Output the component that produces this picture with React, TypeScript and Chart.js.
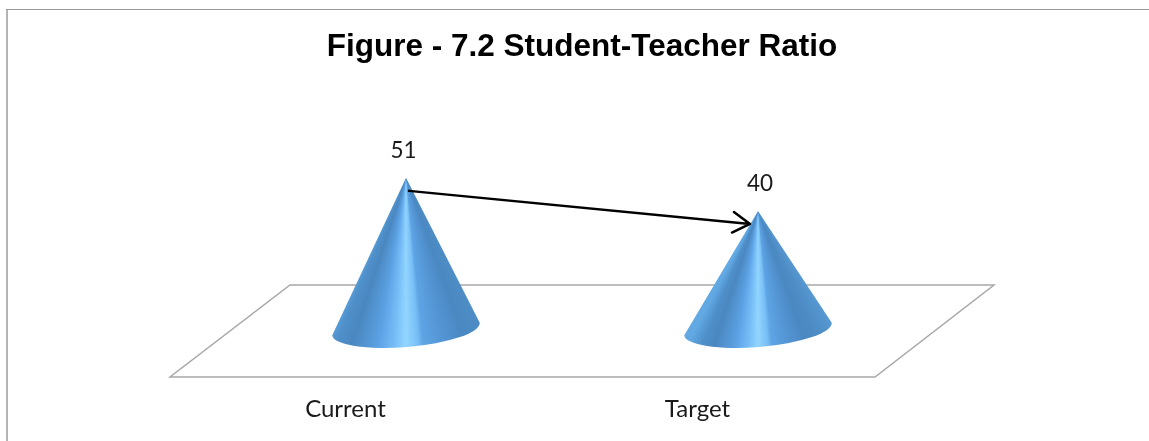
import React, { useEffect, useRef } from "react";
import { Chart, registerables } from "chart.js";

Chart.register(...registerables);

const titleText = "Figure - 7.2 Student-Teacher Ratio";
const categories = ["Current", "Target"];
const ratioValues = [51, 40];

const conePlugin = {
  id: "cones",
  beforeDatasetsDraw(chart: any) {
    const { ctx } = chart;
    const zero = chart.scales.y.getPixelForValue(0);
    ctx.save();
    // chart frame
    ctx.fillStyle = "#b4b4b4";
    ctx.fillRect(6, 9, 2, 432);
    ctx.fillStyle = "#9a9a9a";
    ctx.fillRect(6, 9, 1143, 1);
    // floor
    ctx.strokeStyle = "#a8a8a8";
    ctx.lineWidth = 1.5;
    ctx.beginPath();
    ctx.moveTo(170, zero + 46);
    ctx.lineTo(875, zero + 46);
    ctx.lineTo(994, zero - 46);
    ctx.lineTo(290, zero - 46);
    ctx.closePath();
    ctx.stroke();
    ctx.restore();
  },
  afterDatasetsDraw(chart: any) {
    const { ctx } = chart;
    const bars = chart.getDatasetMeta(0).data;
    ctx.save();
    bars.forEach((bar: any, i: number) => {
      const apexX = bar.x;
      const apexY = bar.y;
      const cy = bar.base - 2;
      const rx = bar.width / 2;
      const ry = 18;
      const rot = -0.084;
      const rightX = apexX + rx * Math.cos(rot);
      const rightY = cy + rx * Math.sin(rot);
      const g = ctx.createConicGradient(0, apexX, apexY);
      const a = (deg: number) => deg / 360;
      g.addColorStop(a(55), "#5a9bd6");
      g.addColorStop(a(64), "#4d8cc4");
      g.addColorStop(a(70), "#4a88c2");
      g.addColorStop(a(78), "#5596d6");
      g.addColorStop(a(84), "#5ea4e4");
      g.addColorStop(a(86), "#79bff6");
      g.addColorStop(a(90), "#92d5ff");
      g.addColorStop(a(94), "#76bdf6");
      g.addColorStop(a(98), "#62a8ea");
      g.addColorStop(a(100), "#5a9fe0");
      g.addColorStop(a(108), "#4a87c0");
      g.addColorStop(a(113), "#4f90ca");
      g.addColorStop(a(118), "#62a9e4");
      ctx.beginPath();
      ctx.moveTo(apexX, apexY);
      ctx.lineTo(rightX, rightY);
      ctx.ellipse(apexX, cy, rx, ry, rot, 0, Math.PI);
      ctx.closePath();
      ctx.fillStyle = g;
      ctx.fill();
      // value label
      ctx.fillStyle = "#1a1a1a";
      ctx.font = "22.5px Lato";
      ctx.textAlign = "center";
      ctx.textBaseline = "alphabetic";
      ctx.fillText(String(ratioValues[i]), apexX + (i === 0 ? -2.5 : 2), apexY - 20);
    });
    // arrow between the cone tips
    const [p, q] = bars;
    const sx = p.x + 3;
    const sy = p.y + 13;
    const ex = q.x - 8;
    const ey = q.y + 13;
    const ang = Math.atan2(ey - sy, ex - sx);
    ctx.strokeStyle = "#000";
    ctx.lineWidth = 2.5;
    ctx.lineCap = "round";
    ctx.lineJoin = "round";
    ctx.beginPath();
    ctx.moveTo(sx, sy);
    ctx.lineTo(ex, ey);
    ctx.moveTo(ex + 20 * Math.cos(ang + 2.6), ey + 20 * Math.sin(ang + 2.6));
    ctx.lineTo(ex, ey);
    ctx.lineTo(ex + 20 * Math.cos(ang - 2.6), ey + 20 * Math.sin(ang - 2.6));
    ctx.stroke();
    ctx.restore();
  },
};

export default function App() {
  const ref = useRef<HTMLCanvasElement>(null);
  useEffect(() => {
    const chart = new Chart(ref.current as HTMLCanvasElement, {
      type: "bar",
      data: {
        labels: categories,
        datasets: [
          {
            data: ratioValues,
            backgroundColor: "rgba(0,0,0,0)",
            barThickness: 148,
          },
        ],
      },
      options: {
        responsive: false,
        animation: false,
        layout: { padding: { left: 230, right: 215, top: 0, bottom: 0 } },
        plugins: {
          legend: { display: false },
          tooltip: { enabled: false },
          title: {
            display: true,
            text: titleText,
            color: "#000",
            font: { family: "Liberation Sans", size: 31.5, weight: "bold" },
            padding: { top: 28, bottom: 25 },
          },
        },
        scales: {
          x: {
            grid: { display: false },
            border: { display: false },
            ticks: {
              color: "#1a1a1a",
              font: { family: "Lato", size: 24 },
              padding: 56,
              labelOffset: -60.5,
              maxRotation: 0,
            },
            afterFit: (s: any) => {
              s.height = 110;
            },
          },
          y: {
            display: false,
            min: 0,
            max: 80,
          },
        },
      },
      plugins: [conePlugin],
    } as any);
    return () => chart.destroy();
  }, []);
  return (
    <div style={{ position: "absolute", left: 0, top: 0, width: 1149, height: 441, background: "#fff" }}>
      <canvas ref={ref} width={1149} height={441} style={{ display: "block" }} />
    </div>
  );
}
